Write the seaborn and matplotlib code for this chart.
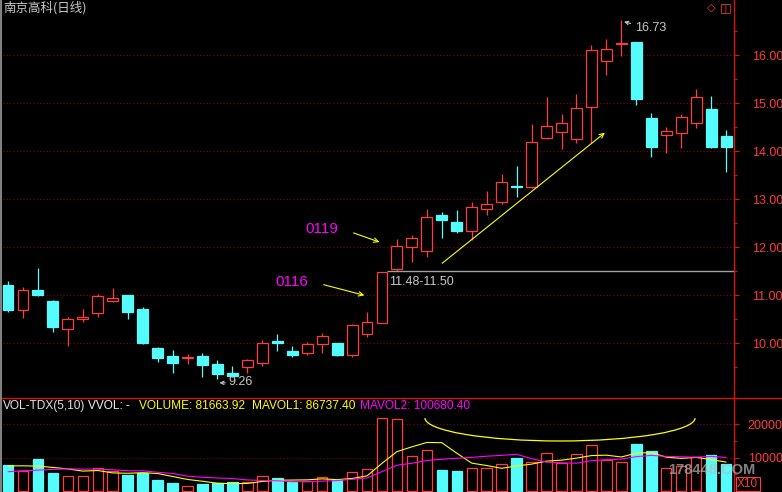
import matplotlib
matplotlib.use("Agg")
import matplotlib.pyplot as plt
from matplotlib.lines import Line2D
from matplotlib.patches import Arc
import seaborn as sns

# Daily candles
opens = [11.21, 10.69, 11.10, 10.87, 10.29, 10.51, 10.62, 10.88, 11.00, 10.71,
         9.90, 9.73, 9.68, 9.73, 9.56, 9.37, 9.50, 9.58, 10.03, 9.83,
         9.79, 9.98, 10.00, 9.75, 10.19, 10.42, 11.54, 12.00, 11.92, 12.67,
         12.52, 12.33, 12.79, 12.94, 13.26, 13.25, 14.27, 14.40, 14.25, 14.92,
         15.87, 16.22, 16.27, 14.69, 14.33, 14.37, 14.58, 14.87, 14.31]
highs = [11.29, 11.17, 11.56, 10.90, 10.54, 10.71, 11.02, 11.15, 11.00, 10.75,
         9.92, 9.85, 9.77, 9.79, 9.65, 9.52, 9.66, 10.06, 10.19, 9.94,
         10.02, 10.21, 10.00, 10.40, 10.65, 11.48, 12.17, 12.25, 12.79, 12.73,
         12.77, 12.94, 13.17, 13.52, 13.69, 14.56, 15.12, 14.77, 15.19, 16.21,
         16.33, 16.73, 16.27, 14.79, 14.50, 14.77, 15.29, 15.15, 14.44]
lows = [10.65, 10.52, 10.98, 10.23, 9.94, 10.44, 10.54, 10.85, 10.50, 9.98,
        9.60, 9.37, 9.56, 9.29, 9.26, 9.30, 9.38, 9.52, 9.83, 9.71,
        9.75, 9.79, 9.73, 9.71, 10.12, 10.42, 11.50, 11.69, 11.79, 12.19,
        12.29, 12.15, 12.67, 12.90, 13.04, 13.23, 14.25, 14.04, 14.17, 14.17,
        15.58, 15.98, 14.96, 13.87, 13.96, 14.06, 14.48, 14.06, 13.56]
closes = [10.69, 11.10, 11.00, 10.33, 10.50, 10.53, 10.98, 10.94, 10.65, 10.00,
          9.69, 9.58, 9.70, 9.54, 9.35, 9.31, 9.65, 10.00, 10.01, 9.75,
          9.98, 10.15, 9.75, 10.37, 10.44, 11.48, 12.02, 12.19, 12.62, 12.56,
          12.33, 12.83, 12.90, 13.35, 13.24, 14.19, 14.52, 14.58, 14.90, 16.10,
          16.12, 16.24, 15.08, 14.08, 14.42, 14.71, 15.12, 14.08, 14.08]

# Volume in axis units (x10), plus the two moving-average lines as drawn
volumes = [7761, 5970, 9552, 5373, 4478, 4478, 6866, 5970, 4776, 5373,
           3284, 2388, 1493, 2090, 2388, 2687, 2687, 4478, 3881, 2687,
           2985, 4179, 3284, 5672, 6567, 21800, 21750, 10448, 12239, 6269,
           5970, 6866, 6866, 8060, 9851, 8657, 11343, 8358, 11045, 13731,
           9254, 8657, 14030, 11940, 6866, 7463, 10149, 10746, 8166]
mavol1 = [7552, 7552, 7463, 7075, 6627, 5970, 6149, 5433, 5314, 5493,
          5254, 4358, 3463, 2926, 2329, 2209, 2269, 2866, 3224, 3284,
          3344, 3642, 3403, 3761, 4537, 8300, 11815, 13247, 14561, 14501,
          11335, 8358, 7642, 6806, 7523, 8060, 8955, 9254, 9851, 10627,
          10746, 10209, 11343, 11522, 10149, 9791, 10090, 9433, 8674]
mavol2 = [5771, 6069, 6269, 6468, 6667, 6567, 6567, 6368, 6069, 6060,
          5612, 5254, 4448, 4120, 3911, 3732, 3314, 3164, 3075, 2806,
          2776, 2956, 3135, 3493, 3911, 5822, 7728, 8325, 9161, 9519,
          9818, 10087, 10445, 10684, 11012, 9698, 8657, 8448, 8329, 9075,
          9403, 9582, 10299, 10687, 10388, 10269, 10149, 10388, 10068]

price_ticks = [10, 11, 12, 13, 14, 15, 16]
price_labels = ["10.00", "11.00", "12.00", "13.00", "14.00", "15.00", "16.00"]
price_minor = [9.5, 10.5, 11.5, 12.5, 13.5, 14.5, 15.5, 16.5]
vol_ticks = [10000, 20000]
vol_labels = ["10000", "20000"]
vol_minor = [5000, 15000]

W, H = 782, 492
RED = "#ff3b3b"
CYAN = "#55fcfc"
AXRED = "#d41414"
GRID = "#8a0000"
GRAY = "#c8c8c8"
MAG = "#ff00ff"
YEL = "#ffff00"

sns.set_style("dark", {"axes.facecolor": "black", "figure.facecolor": "black",
                       "axes.grid": False})
plt.rcParams['font.family'] = ['Liberation Sans', 'Noto Sans CJK SC', 'DejaVu Sans']

fig = plt.figure(figsize=(W / 100, H / 100), dpi=100)
ax = fig.add_axes([0, 95 / H, 734 / W, 397 / H])
axv = fig.add_axes([0, 0, 734 / W, 94 / H])

n = len(opens)
idx = list(range(n))
up = [c >= o for o, c in zip(opens, closes)]
tops = [max(o, c) for o, c in zip(opens, closes)]
bots = [min(o, c) for o, c in zip(opens, closes)]
body_h = [max(t - b, 0.03) for t, b in zip(tops, bots)]
col = [RED if u else CYAN for u in up]
face = ["black" if u else CYAN for u in up]

# wicks: hollow red candles keep the wick outside the body
for i in idx:
    if up[i]:
        ax.vlines(i, tops[i], highs[i], color=col[i], lw=0.9)
        ax.vlines(i, lows[i], bots[i], color=col[i], lw=0.9)
    else:
        ax.vlines(i, lows[i], highs[i], color=col[i], lw=0.9)
ax.bar(idx, body_h, bottom=bots, width=0.73, color=face, edgecolor=col, linewidth=0.9, zorder=3)

# grid
ax.hlines(price_ticks, -0.33, 48.6, color=GRID, lw=0.8, linestyles=(0, (1, 2)), zorder=0)
axv.hlines(vol_ticks, -0.33, 48.6, color=GRID, lw=0.8, linestyles=(0, (1, 2)), zorder=0)

# volume bars and averages
axv.bar(idx, volumes, width=0.7, color=face, edgecolor=col, linewidth=0.9, zorder=2)
sns.lineplot(x=idx, y=mavol1, ax=axv, color=YEL, lw=0.8, legend=False, zorder=4)
sns.lineplot(x=idx, y=mavol2, ax=axv, color=MAG, lw=0.8, legend=False, zorder=4)

for a in (ax, axv):
    a.set_xlim(-0.535, 48.53)
    a.set_xticks([])
    a.set_xlabel("")
    a.set_ylabel("")
    for s in ("top", "left", "bottom"):
        a.spines[s].set_visible(False)
    a.spines["right"].set_color(AXRED)
    a.spines["right"].set_linewidth(1.0)
    a.yaxis.tick_right()
    a.tick_params(axis="y", which="major", length=3.8, width=0.8, color=AXRED,
                  labelcolor=RED, labelsize=9, pad=9)
    a.tick_params(axis="y", which="minor", length=2.4, width=0.8, color=AXRED)

ax.set_ylim(8.875, 17.146)
ax.set_yticks(price_ticks)
ax.set_yticklabels(price_labels)
ax.set_yticks(price_minor, minor=True)

axv.set_ylim(-300, 27900)
axv.set_yticks(vol_ticks)
axv.set_yticklabels(vol_labels)
axv.set_yticks(vol_minor, minor=True)
axv.tick_params(axis="y", which="major", pad=6)

# high / low / gap labels
ax.annotate("", xy=(41, 16.71), xytext=(41.8, 16.64),
            arrowprops=dict(arrowstyle="->", color=GRAY, lw=0.8, mutation_scale=6))
ax.text(41.9, 16.57, "16.73", color=GRAY, fontsize=9, va="center")
ax.annotate("", xy=(13.95, 9.17), xytext=(14.7, 9.17),
            arrowprops=dict(arrowstyle="->", color=GRAY, lw=0.8, mutation_scale=6))
ax.text(14.7, 9.18, "9.26", color=GRAY, fontsize=9, va="center")
ax.hlines(11.50, 25.33, 48.53, color="#a0a0a0", lw=1.0, zorder=2)
ax.text(25.5, 11.28, "11.48-11.50", color=GRAY, fontsize=9, va="center")


def fp(px, py):
    return (px, H - py)


# hand-drawn notes
fig.text(305 / W, 1 - 229 / H, "0119", color=MAG, fontsize=11, va="center")
fig.text(275 / W, 1 - 282 / H, "0116", color=MAG, fontsize=11, va="center")
arrows = [((351, 232), (382, 243)), ((321, 284), (367, 296)), ((440, 265), (607, 131))]
for start, end in arrows:
    ax.annotate("", xy=fp(*end), xytext=fp(*start), xycoords="figure pixels",
                textcoords="figure pixels",
                arrowprops=dict(arrowstyle="->", color=YEL, lw=0.8, mutation_scale=8))
axv.add_patch(Arc((36.9, 21900), 18.05, 13800, theta1=180, theta2=360,
                  color=YEL, lw=0.9, clip_on=False, zorder=5))

# titles and header texts
fig.text(3 / W, 1 - 8 / H, "南京高科(日线)", color=GRAY, fontsize=9, va="center",
         family=["Noto Sans CJK SC", "DejaVu Sans"])
fig.text(711 / W, 1 - 8 / H, "◇", color=RED, fontsize=8, va="center", ha="center",
         family=["DejaVu Sans"])
fig.text(726 / W, 1 - 8 / H, "◫", color=RED, fontsize=9, va="center", ha="center",
         family=["DejaVu Sans"])
header = [(3, "VOL-TDX(5,10)", "#e0e0e0"), (88, "VVOL: -", "#f0f0f0"),
          (139, "VOLUME: 81663.92", YEL), (252, "MAVOL1: 86737.40", YEL),
          (360, "MAVOL2: 100680.40", MAG)]
for px, s, c in header:
    fig.text(px / W, 1 - 406 / H, s, color=c, fontsize=8.6, va="center")
fig.text(737 / W, 1 - 484 / H, "X10", color=RED, fontsize=8.5, va="center",
         bbox=dict(boxstyle="square,pad=0.12", fc="black", ec=RED, lw=0.8))
fig.text(668 / W, 1 - 470 / H, "178448.COM", color="#b8b8b8", alpha=0.7, fontsize=10.5,
         weight="bold", va="center")

# frame lines
fig.add_artist(Line2D([0, 1], [1 - 397.5 / H] * 2, color=AXRED, lw=1.0))
fig.add_artist(Line2D([1 / W, 1 / W], [0, 1], color="#808080", lw=1.5))

fig.savefig("out.png", dpi=100, facecolor="black")
